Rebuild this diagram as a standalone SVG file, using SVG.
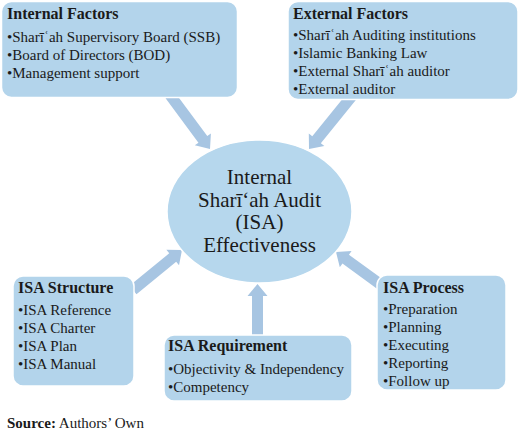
<svg xmlns="http://www.w3.org/2000/svg" xmlns:xlink="http://www.w3.org/1999/xlink" width="520" height="434" viewBox="0 0 520 434">
<style>
.box{fill:#b3d4eb;stroke:#ffffff;stroke-width:1.5}
.ell{fill:#b6d7ed;stroke:#ffffff;stroke-width:1.5}
.arr{fill:#a7c5e2;stroke:none}
</style>
<defs>
<text id="lbl-if-0" font-family="Liberation Serif" font-size="16" font-weight="bold" fill="#1a1a1a" x="7" y="19">Internal Factors</text>
<text id="lbl-if-1" font-family="Liberation Serif" font-size="15" fill="#1a1a1a" x="7" y="42">•Sharīʿah Supervisory Board (SSB)</text>
<text id="lbl-if-2" font-family="Liberation Serif" font-size="15" fill="#1a1a1a" x="7" y="60">•Board of Directors (BOD)</text>
<text id="lbl-if-3" font-family="Liberation Serif" font-size="15" fill="#1a1a1a" x="7" y="77.5">•Management support</text>
</defs>
<rect width="520" height="434" fill="#ffffff"/>
<g id="connectors">
<path class="arr" transform="translate(170,95) rotate(53.47)" d="M0,-5.5 H55.2 V-10 L67.2,0 L55.2,10 V5.5 H0 Z"/>
<path class="arr" transform="translate(352,96) rotate(129.05)" d="M0,-5.5 H56.25 V-10 L68.25,0 L56.25,10 V5.5 H0 Z"/>
<path class="arr" transform="translate(133,290) rotate(-39.23)" d="M0,-5.5 H51.25 V-10 L63.25,0 L51.25,10 V5.5 H0 Z"/>
<path class="arr" transform="translate(257.5,338) rotate(-90)" d="M0,-5.5 H42 V-10 L54,0 L42,10 V5.5 H0 Z"/>
<path class="arr" transform="translate(384,287) rotate(-143.9)" d="M0,-5.5 H47.4 V-10 L59.4,0 L47.4,10 V5.5 H0 Z"/>
</g>
<g id="internal-factors">
<rect class="box" x="1.5" y="1.5" width="236" height="96" rx="10"/>
<use href="#lbl-if-0" xlink:href="#lbl-if-0"/>
<use href="#lbl-if-1" xlink:href="#lbl-if-1"/>
<use href="#lbl-if-2" xlink:href="#lbl-if-2"/>
<use href="#lbl-if-3" xlink:href="#lbl-if-3"/>
</g>
<g id="n2">
<rect class="box" x="288" y="1.5" width="230" height="98" rx="10"/>
<text font-family="Liberation Serif" font-size="16" font-weight="bold" fill="#1a1a1a" x="293" y="18.5">External Factors</text>
<text font-family="Liberation Serif" font-size="15" fill="#1a1a1a" x="293" y="40">•Sharīʿah Auditing institutions</text>
<text font-family="Liberation Serif" font-size="15" fill="#1a1a1a" x="293" y="58">•Islamic Banking Law</text>
<text font-family="Liberation Serif" font-size="15" fill="#1a1a1a" x="293" y="76">•External Sharīʿah auditor</text>
<text font-family="Liberation Serif" font-size="15" fill="#1a1a1a" x="293" y="94">•External auditor</text>
</g>
<g id="isa-effectiveness">
<ellipse class="ell" cx="259.5" cy="211.5" rx="92.5" ry="71.5"/>
<svg x="0" y="0" width="520" height="434" overflow="visible">
<text font-family="Liberation Serif" font-size="21" text-anchor="middle" fill="#1a1a1a" x="259.5" y="184">Internal</text>
<text font-family="Liberation Serif" font-size="21" text-anchor="middle" fill="#1a1a1a" x="259.5" y="207">Sharī‘ah Audit</text>
<text font-family="Liberation Serif" font-size="21" text-anchor="middle" fill="#1a1a1a" x="259.5" y="229">(ISA)</text>
<text font-family="Liberation Serif" font-size="21" text-anchor="middle" fill="#1a1a1a" x="259.5" y="252">Effectiveness</text>
</svg>
</g>
<g id="isa-structure">
<rect class="box" x="13" y="276" width="121" height="110" rx="10"/>
<text font-family="Times New Roman" font-size="16" font-weight="bold" fill="#1a1a1a" x="18" y="293">ISA Structure</text>
<text font-family="Times New Roman" font-size="15" fill="#1a1a1a" x="18" y="315">•ISA Reference</text>
<text font-family="Times New Roman" font-size="15" fill="#1a1a1a" x="18" y="333">•ISA Charter</text>
<text font-family="Times New Roman" font-size="15" fill="#1a1a1a" x="18" y="351">•ISA Plan</text>
<text font-family="Times New Roman" font-size="15" fill="#1a1a1a" x="18" y="369">•ISA Manual</text>
</g>
<g id="isa-requirement">
<rect class="box" x="164" y="335" width="188" height="66" rx="10"/>
</g>
<text font-family="Liberation Serif" font-size="16" font-weight="bold" fill="#1a1a1a" x="168" y="351">ISA Requirement</text>
<text font-family="Liberation Serif" font-size="15" fill="#1a1a1a" x="168" y="374">•Objectivity &amp; Independency</text>
<text font-family="Liberation Serif" font-size="15" fill="#1a1a1a" x="168" y="392">•Competency</text>
<g id="isa-process">
<rect class="box" x="377" y="275" width="129" height="115" rx="10"/>
<text font-family="serif" font-size="16" font-weight="bold" fill="#1a1a1a" x="383" y="293">ISA Process</text>
<text font-family="serif" font-size="15" fill="#1a1a1a" x="383" y="314">•Preparation</text>
<text font-family="serif" font-size="15" fill="#1a1a1a" x="383" y="332">•Planning</text>
<text font-family="serif" font-size="15" fill="#1a1a1a" x="383" y="350">•Executing</text>
<text font-family="serif" font-size="15" fill="#1a1a1a" x="383" y="368">•Reporting</text>
<text font-family="serif" font-size="15" fill="#1a1a1a" x="383" y="386">•Follow up</text>
</g>
<text font-family="Liberation Serif" font-size="15" fill="#1a1a1a" x="7" y="428"><tspan font-weight="bold">Source:</tspan> Authors’ Own</text>
</svg>
